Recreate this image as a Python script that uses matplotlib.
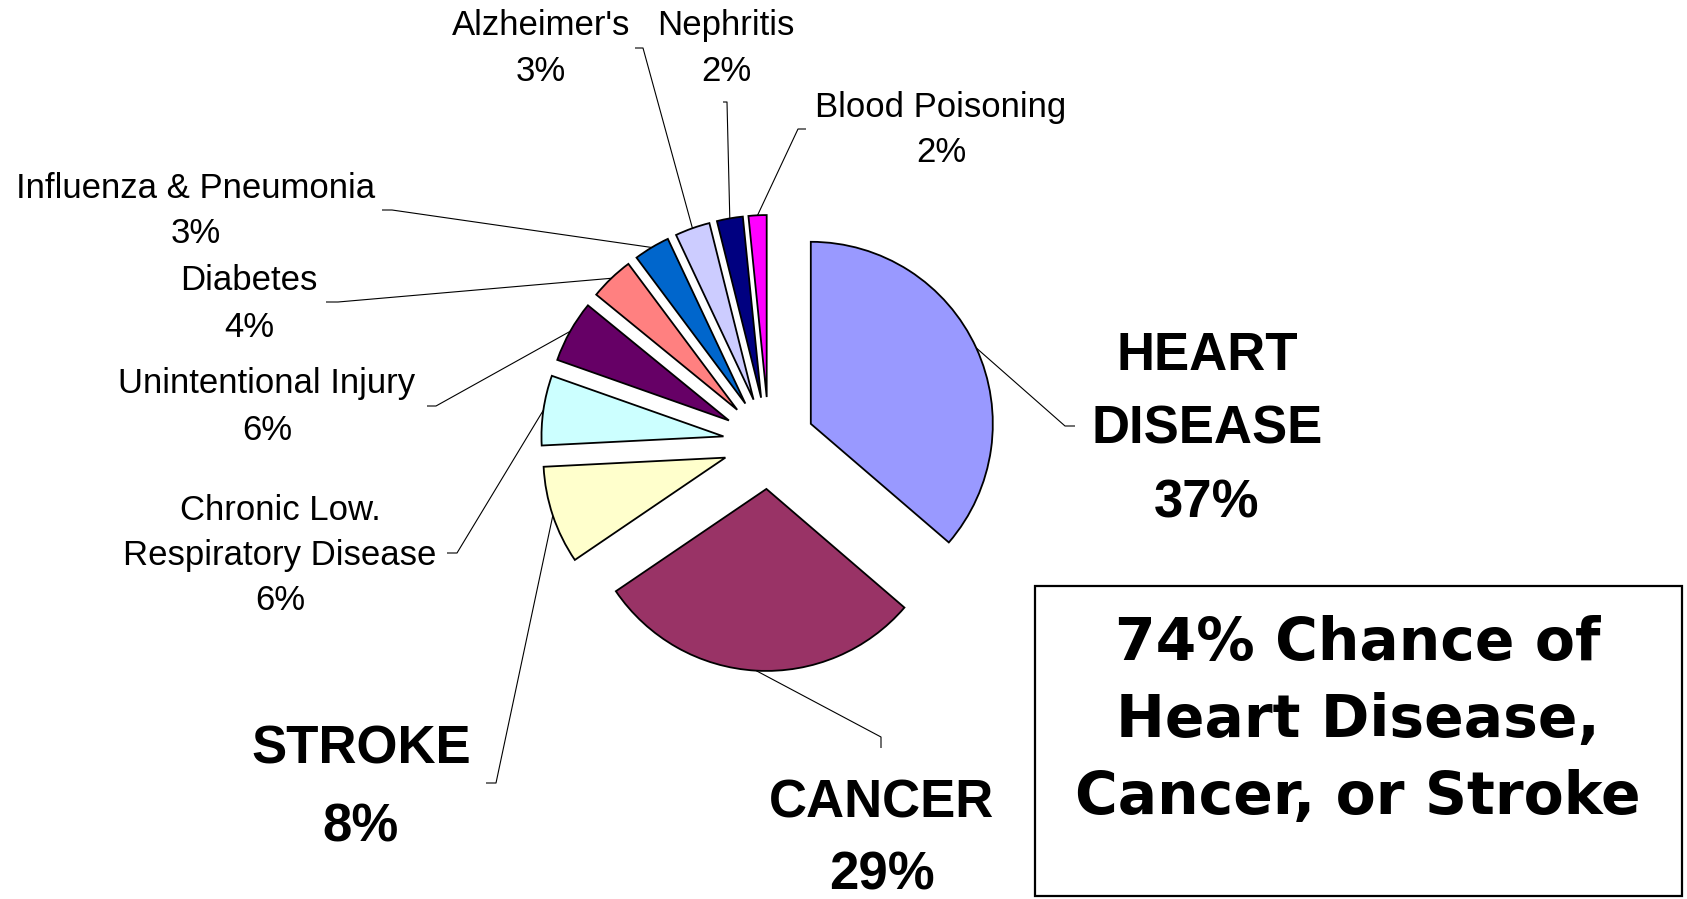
import numpy as np
import matplotlib
matplotlib.use("Agg")
import matplotlib.pyplot as plt
from matplotlib.patches import Rectangle

# ---------------- data ----------------
causes = ["HEART\nDISEASE", "CANCER", "STROKE", "Chronic Low.\nRespiratory Disease",
          "Unintentional Injury", "Diabetes", "Influenza & Pneumonia",
          "Alzheimer's", "Nephritis", "Blood Poisoning"]
shares = [36.3, 29.2, 8.7, 6.2, 5.5, 3.9, 3.2, 3.1, 2.3, 1.6]
pct_labels = ["37%", "29%", "8%", "6%", "6%", "4%", "3%", "3%", "2%", "2%"]
colors = ["#9999FF", "#993366", "#FFFFCC", "#CCFFFF", "#660066",
          "#FF8080", "#0066CC", "#CCCCFF", "#000080", "#FF00FF"]
box_text = ["74% Chance of", "Heart Disease,", "Cancer, or Stroke"]

# ---------------- layout (pixels, y measured from top) ----------------
W, H = 1687, 899
def Y(y):
    return H - y

center = (769, Y(443))
radius = 182
gap = 46

# label: (center x, first baseline y, line step, bold)
label_pos = [
    (1207, 370, 74, True),
    (882, 817, 72, True),
    (361, 764, 77, True),
    (280, 520, 45, False),
    (267, 393, 47, False),
    (249, 290, 47, False),
    (196, 198, 45, False),
    (541, 35, 46, False),
    (726, 35, 46, False),
    (941, 117, 45, False),
]
# leader elbow + end points (from label side)
leader_pts = [
    [(1065, 426), (1075, 426)],
    [(881, 737), (881, 748)],
    [(496, 783), (486, 783)],
    [(457, 553), (447, 553)],
    [(436, 406), (427, 406)],
    [(338, 302), (326, 302)],
    [(392, 210), (382, 210)],
    [(643, 48), (635, 48)],
    [(727, 102), (723, 102)],
    [(798, 129), (806, 129)],
]

fig = plt.figure(figsize=(W / 100, H / 100), dpi=100)
ax = fig.add_axes([0, 0, 1, 1])

wedges, _ = ax.pie(shares, colors=colors, startangle=90, counterclock=False,
                   center=center, radius=radius, explode=[gap] * len(shares),
                   wedgeprops=dict(edgecolor="black", linewidth=1.3))

# leader lines from arc midpoints
for w, pts in zip(wedges, leader_pts):
    th = np.deg2rad((w.theta1 + w.theta2) / 2)
    sx = w.center[0] + w.r * np.cos(th)
    sy = w.center[1] + w.r * np.sin(th)
    xs = [sx] + [p[0] for p in pts]
    ys = [sy] + [Y(p[1]) for p in pts]
    ax.plot(xs, ys, color="black", linewidth=0.8, solid_capstyle="butt", zorder=0)

# labels
for name, pct, (cx, base, step, bold) in zip(causes, pct_labels, label_pos):
    lines = name.split("\n") + [pct]
    for i, line in enumerate(lines):
        ax.text(cx, Y(base + i * step), line, ha="center", va="baseline",
                fontsize=38 if bold else 25,
                fontweight="bold" if bold else "normal",
                family="Liberation Sans")

# summary box
ax.add_patch(Rectangle((1035, Y(896)), 1682 - 1035, 896 - 586,
                       facecolor="white", edgecolor="black", linewidth=1.6))
for i, line in enumerate(box_text):
    ax.text(1358, Y(660 + i * 77), line, ha="center", va="baseline",
            fontsize=42, fontweight="bold", family="DejaVu Sans")

ax.set_xlim(0, W)
ax.set_ylim(0, H)
ax.set_aspect("equal")
ax.axis("off")

fig.savefig("out.png", dpi=100)
